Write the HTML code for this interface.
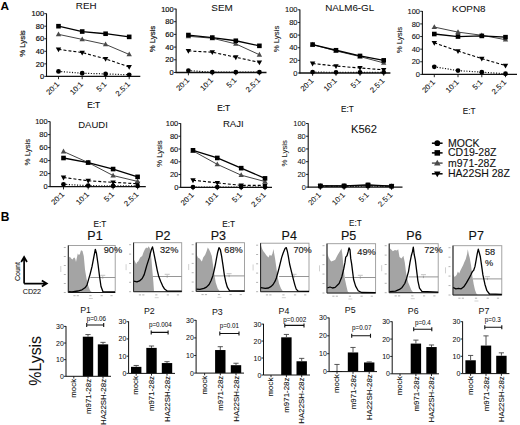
<!DOCTYPE html>
<html><head><meta charset="utf-8"><style>
html,body{margin:0;padding:0;background:#fff;}
body{width:520px;height:425px;overflow:hidden;}
svg{display:block;font-family:"Liberation Sans", sans-serif;}
</style></head><body>
<svg width="520" height="425" viewBox="0 0 520 425">
<rect width="520" height="425" fill="#fff"/>
<text x="0.6" y="10.4" font-size="11.8" font-weight="bold" fill="#000">A</text>
<text x="0.8" y="220.8" font-size="12" font-weight="bold" fill="#000">B</text>
<path d="M46.5 13.45V76.90" stroke="#111" stroke-width="1.1"/>
<path d="M46.0 76.40H140.3" stroke="#111" stroke-width="1.3"/>
<path d="M44.3 76.40H46.5" stroke="#111" stroke-width="0.9"/>
<text x="44.10" y="79.05" font-size="7.5" text-anchor="end" fill="#111" stroke="#111" stroke-width="0.2">0</text>
<path d="M44.3 63.85H46.5" stroke="#111" stroke-width="0.9"/>
<text x="44.10" y="66.50" font-size="7.5" text-anchor="end" fill="#111" stroke="#111" stroke-width="0.2">20</text>
<path d="M44.3 51.30H46.5" stroke="#111" stroke-width="0.9"/>
<text x="44.10" y="53.95" font-size="7.5" text-anchor="end" fill="#111" stroke="#111" stroke-width="0.2">40</text>
<path d="M44.3 38.75H46.5" stroke="#111" stroke-width="0.9"/>
<text x="44.10" y="41.40" font-size="7.5" text-anchor="end" fill="#111" stroke="#111" stroke-width="0.2">60</text>
<path d="M44.3 26.20H46.5" stroke="#111" stroke-width="0.9"/>
<text x="44.10" y="28.85" font-size="7.5" text-anchor="end" fill="#111" stroke="#111" stroke-width="0.2">80</text>
<path d="M44.3 13.65H46.5" stroke="#111" stroke-width="0.9"/>
<text x="44.10" y="16.30" font-size="7.5" text-anchor="end" fill="#111" stroke="#111" stroke-width="0.2">100</text>
<path d="M58.50 76.40V79.20" stroke="#111" stroke-width="0.9"/>
<text x="59.80" y="84.70" font-size="7.6" text-anchor="end" fill="#111" stroke="#111" stroke-width="0.1" transform="rotate(-45 59.80 84.70)">20:1</text>
<path d="M82.20 76.40V79.20" stroke="#111" stroke-width="0.9"/>
<text x="83.50" y="84.70" font-size="7.6" text-anchor="end" fill="#111" stroke="#111" stroke-width="0.1" transform="rotate(-45 83.50 84.70)">10:1</text>
<path d="M105.60 76.40V79.20" stroke="#111" stroke-width="0.9"/>
<text x="106.90" y="84.70" font-size="7.6" text-anchor="end" fill="#111" stroke="#111" stroke-width="0.1" transform="rotate(-45 106.90 84.70)">5:1</text>
<path d="M129.20 76.40V79.20" stroke="#111" stroke-width="0.9"/>
<text x="130.50" y="84.70" font-size="7.6" text-anchor="end" fill="#111" stroke="#111" stroke-width="0.1" transform="rotate(-45 130.50 84.70)">2.5:1</text>
<polyline points="58.50,71.38 82.20,73.26 105.60,73.89 129.20,74.83" stroke="#111" stroke-width="1.2" stroke-dasharray="1.1 1.6" fill="none"/>
<circle cx="58.50" cy="71.38" r="2.40" fill="#000"/>
<circle cx="82.20" cy="73.26" r="2.40" fill="#000"/>
<circle cx="105.60" cy="73.89" r="2.40" fill="#000"/>
<circle cx="129.20" cy="74.83" r="2.40" fill="#000"/>
<polyline points="58.50,49.42 82.20,52.56 105.60,58.83 129.20,66.99" stroke="#000" stroke-width="1.1" stroke-dasharray="3 2" fill="none"/>
<path d="M55.80 47.50L61.20 47.50L58.50 52.30Z" fill="#000"/>
<path d="M79.50 50.64L84.90 50.64L82.20 55.44Z" fill="#000"/>
<path d="M102.90 56.91L108.30 56.91L105.60 61.71Z" fill="#000"/>
<path d="M126.50 65.07L131.90 65.07L129.20 69.87Z" fill="#000"/>
<polyline points="58.50,34.36 82.20,39.38 105.60,44.40 129.20,54.44" stroke="#444" stroke-width="1.0" fill="none"/>
<path d="M58.50 31.48L61.20 36.28L55.80 36.28Z" fill="#4a4a4a"/>
<path d="M82.20 36.50L84.90 41.30L79.50 41.30Z" fill="#4a4a4a"/>
<path d="M105.60 41.52L108.30 46.32L102.90 46.32Z" fill="#4a4a4a"/>
<path d="M129.20 51.56L131.90 56.36L126.50 56.36Z" fill="#4a4a4a"/>
<polyline points="58.50,26.20 82.20,31.53 105.60,33.73 129.20,36.87" stroke="#000" stroke-width="1.3" fill="none"/>
<rect x="56.20" y="23.90" width="4.6" height="4.6" fill="#000"/>
<rect x="79.90" y="29.23" width="4.6" height="4.6" fill="#000"/>
<rect x="103.30" y="31.43" width="4.6" height="4.6" fill="#000"/>
<rect x="126.90" y="34.57" width="4.6" height="4.6" fill="#000"/>
<text x="86.20" y="9.40" font-size="9.8" text-anchor="middle" fill="#111" stroke="#111" stroke-width="0.05">REH</text>
<text x="24.60" y="43.50" font-size="7.8" text-anchor="middle" fill="#111" stroke="#111" stroke-width="0.2" transform="rotate(-90 24.60 43.50)">% Lysis</text>
<text x="93.60" y="107.70" font-size="8.2" text-anchor="middle" fill="#111" stroke="#111" stroke-width="0.2">E:T</text>
<path d="M176.1 8.80V73.00" stroke="#111" stroke-width="1.1"/>
<path d="M175.6 72.50H266.5" stroke="#111" stroke-width="1.3"/>
<path d="M173.9 72.50H176.1" stroke="#111" stroke-width="0.9"/>
<text x="173.70" y="75.15" font-size="7.5" text-anchor="end" fill="#111" stroke="#111" stroke-width="0.2">0</text>
<path d="M173.9 59.80H176.1" stroke="#111" stroke-width="0.9"/>
<text x="173.70" y="62.45" font-size="7.5" text-anchor="end" fill="#111" stroke="#111" stroke-width="0.2">20</text>
<path d="M173.9 47.10H176.1" stroke="#111" stroke-width="0.9"/>
<text x="173.70" y="49.75" font-size="7.5" text-anchor="end" fill="#111" stroke="#111" stroke-width="0.2">40</text>
<path d="M173.9 34.40H176.1" stroke="#111" stroke-width="0.9"/>
<text x="173.70" y="37.05" font-size="7.5" text-anchor="end" fill="#111" stroke="#111" stroke-width="0.2">60</text>
<path d="M173.9 21.70H176.1" stroke="#111" stroke-width="0.9"/>
<text x="173.70" y="24.35" font-size="7.5" text-anchor="end" fill="#111" stroke="#111" stroke-width="0.2">80</text>
<path d="M173.9 9.00H176.1" stroke="#111" stroke-width="0.9"/>
<text x="173.70" y="11.65" font-size="7.5" text-anchor="end" fill="#111" stroke="#111" stroke-width="0.2">100</text>
<path d="M188.40 72.50V75.30" stroke="#111" stroke-width="0.9"/>
<text x="189.70" y="80.80" font-size="7.6" text-anchor="end" fill="#111" stroke="#111" stroke-width="0.1" transform="rotate(-45 189.70 80.80)">20:1</text>
<path d="M212.30 72.50V75.30" stroke="#111" stroke-width="0.9"/>
<text x="213.60" y="80.80" font-size="7.6" text-anchor="end" fill="#111" stroke="#111" stroke-width="0.1" transform="rotate(-45 213.60 80.80)">10:1</text>
<path d="M235.80 72.50V75.30" stroke="#111" stroke-width="0.9"/>
<text x="237.10" y="80.80" font-size="7.6" text-anchor="end" fill="#111" stroke="#111" stroke-width="0.1" transform="rotate(-45 237.10 80.80)">5:1</text>
<path d="M259.40 72.50V75.30" stroke="#111" stroke-width="0.9"/>
<text x="260.70" y="80.80" font-size="7.6" text-anchor="end" fill="#111" stroke="#111" stroke-width="0.1" transform="rotate(-45 260.70 80.80)">2.5:1</text>
<polyline points="188.40,70.59 212.30,72.18 235.80,72.18 259.40,72.18" stroke="#111" stroke-width="1.2" stroke-dasharray="1.1 1.6" fill="none"/>
<circle cx="188.40" cy="70.59" r="2.40" fill="#000"/>
<circle cx="212.30" cy="72.18" r="2.40" fill="#000"/>
<circle cx="235.80" cy="72.18" r="2.40" fill="#000"/>
<circle cx="259.40" cy="72.18" r="2.40" fill="#000"/>
<polyline points="188.40,50.91 212.30,52.18 235.80,57.26 259.40,62.34" stroke="#000" stroke-width="1.1" stroke-dasharray="3 2" fill="none"/>
<path d="M185.70 48.99L191.10 48.99L188.40 53.79Z" fill="#000"/>
<path d="M209.60 50.26L215.00 50.26L212.30 55.06Z" fill="#000"/>
<path d="M233.10 55.34L238.50 55.34L235.80 60.14Z" fill="#000"/>
<path d="M256.70 60.42L262.10 60.42L259.40 65.22Z" fill="#000"/>
<polyline points="188.40,36.30 212.30,38.21 235.80,43.92 259.40,54.72" stroke="#444" stroke-width="1.0" fill="none"/>
<path d="M188.40 33.42L191.10 38.23L185.70 38.23Z" fill="#4a4a4a"/>
<path d="M212.30 35.33L215.00 40.13L209.60 40.13Z" fill="#4a4a4a"/>
<path d="M235.80 41.04L238.50 45.84L233.10 45.84Z" fill="#4a4a4a"/>
<path d="M259.40 51.84L262.10 56.64L256.70 56.64Z" fill="#4a4a4a"/>
<polyline points="188.40,35.03 212.30,37.58 235.80,40.75 259.40,45.83" stroke="#000" stroke-width="1.3" fill="none"/>
<rect x="186.10" y="32.73" width="4.6" height="4.6" fill="#000"/>
<rect x="210.00" y="35.28" width="4.6" height="4.6" fill="#000"/>
<rect x="233.50" y="38.45" width="4.6" height="4.6" fill="#000"/>
<rect x="257.10" y="43.53" width="4.6" height="4.6" fill="#000"/>
<text x="222.00" y="10.60" font-size="9.9" text-anchor="middle" fill="#111" stroke="#111" stroke-width="0.05">SEM</text>
<text x="154.80" y="39.00" font-size="7.8" text-anchor="middle" fill="#111" stroke="#111" stroke-width="0.2" transform="rotate(-90 154.80 39.00)">% Lysis</text>
<text x="223.60" y="111.00" font-size="8.2" text-anchor="middle" fill="#111" stroke="#111" stroke-width="0.2">E:T</text>
<path d="M299.9 9.60V73.50" stroke="#111" stroke-width="1.1"/>
<path d="M299.4 73.00H390.4" stroke="#111" stroke-width="1.3"/>
<path d="M297.7 73.00H299.9" stroke="#111" stroke-width="0.9"/>
<text x="297.50" y="75.65" font-size="7.5" text-anchor="end" fill="#111" stroke="#111" stroke-width="0.1">0</text>
<path d="M297.7 60.36H299.9" stroke="#111" stroke-width="0.9"/>
<text x="297.50" y="63.01" font-size="7.5" text-anchor="end" fill="#111" stroke="#111" stroke-width="0.1">20</text>
<path d="M297.7 47.72H299.9" stroke="#111" stroke-width="0.9"/>
<text x="297.50" y="50.37" font-size="7.5" text-anchor="end" fill="#111" stroke="#111" stroke-width="0.1">40</text>
<path d="M297.7 35.08H299.9" stroke="#111" stroke-width="0.9"/>
<text x="297.50" y="37.73" font-size="7.5" text-anchor="end" fill="#111" stroke="#111" stroke-width="0.1">60</text>
<path d="M297.7 22.44H299.9" stroke="#111" stroke-width="0.9"/>
<text x="297.50" y="25.09" font-size="7.5" text-anchor="end" fill="#111" stroke="#111" stroke-width="0.1">80</text>
<path d="M297.7 9.80H299.9" stroke="#111" stroke-width="0.9"/>
<text x="297.50" y="12.45" font-size="7.5" text-anchor="end" fill="#111" stroke="#111" stroke-width="0.1">100</text>
<path d="M312.60 73.00V75.80" stroke="#111" stroke-width="0.9"/>
<text x="313.90" y="81.30" font-size="7.6" text-anchor="end" fill="#111" stroke="#111" stroke-width="0.1" transform="rotate(-45 313.90 81.30)">20:1</text>
<path d="M336.00 73.00V75.80" stroke="#111" stroke-width="0.9"/>
<text x="337.30" y="81.30" font-size="7.6" text-anchor="end" fill="#111" stroke="#111" stroke-width="0.1" transform="rotate(-45 337.30 81.30)">10:1</text>
<path d="M360.00 73.00V75.80" stroke="#111" stroke-width="0.9"/>
<text x="361.30" y="81.30" font-size="7.6" text-anchor="end" fill="#111" stroke="#111" stroke-width="0.1" transform="rotate(-45 361.30 81.30)">5:1</text>
<path d="M383.70 73.00V75.80" stroke="#111" stroke-width="0.9"/>
<text x="385.00" y="81.30" font-size="7.6" text-anchor="end" fill="#111" stroke="#111" stroke-width="0.1" transform="rotate(-45 385.00 81.30)">2.5:1</text>
<polyline points="312.60,72.05 336.00,72.37 360.00,72.37 383.70,72.37" stroke="#111" stroke-width="1.2" stroke-dasharray="1.1 1.6" fill="none"/>
<circle cx="312.60" cy="72.05" r="2.40" fill="#000"/>
<circle cx="336.00" cy="72.37" r="2.40" fill="#000"/>
<circle cx="360.00" cy="72.37" r="2.40" fill="#000"/>
<circle cx="383.70" cy="72.37" r="2.40" fill="#000"/>
<polyline points="312.60,63.52 336.00,66.05 360.00,67.94 383.70,69.84" stroke="#000" stroke-width="1.1" stroke-dasharray="3 2" fill="none"/>
<path d="M309.90 61.60L315.30 61.60L312.60 66.40Z" fill="#000"/>
<path d="M333.30 64.13L338.70 64.13L336.00 68.93Z" fill="#000"/>
<path d="M357.30 66.02L362.70 66.02L360.00 70.82Z" fill="#000"/>
<path d="M381.00 67.92L386.40 67.92L383.70 72.72Z" fill="#000"/>
<polyline points="312.60,44.56 336.00,50.88 360.00,56.57 383.70,62.89" stroke="#444" stroke-width="1.0" fill="none"/>
<path d="M312.60 41.68L315.30 46.48L309.90 46.48Z" fill="#4a4a4a"/>
<path d="M336.00 48.00L338.70 52.80L333.30 52.80Z" fill="#4a4a4a"/>
<path d="M360.00 53.69L362.70 58.49L357.30 58.49Z" fill="#4a4a4a"/>
<path d="M383.70 60.01L386.40 64.81L381.00 64.81Z" fill="#4a4a4a"/>
<polyline points="312.60,44.56 336.00,50.25 360.00,55.94 383.70,60.36" stroke="#000" stroke-width="1.3" fill="none"/>
<rect x="310.30" y="42.26" width="4.6" height="4.6" fill="#000"/>
<rect x="333.70" y="47.95" width="4.6" height="4.6" fill="#000"/>
<rect x="357.70" y="53.64" width="4.6" height="4.6" fill="#000"/>
<rect x="381.40" y="58.06" width="4.6" height="4.6" fill="#000"/>
<text x="349.70" y="10.60" font-size="9.8" text-anchor="middle" fill="#111" stroke="#111" stroke-width="0.05">NALM6-GL</text>
<text x="279.00" y="39.00" font-size="7.8" text-anchor="middle" fill="#111" stroke="#111" stroke-width="0.1" transform="rotate(-90 279.00 39.00)">% Lysis</text>
<text x="347.30" y="112.00" font-size="8.2" text-anchor="middle" fill="#111" stroke="#111" stroke-width="0.1">E:T</text>
<path d="M422.4 11.10V74.90" stroke="#111" stroke-width="1.1"/>
<path d="M421.9 74.40H517.0" stroke="#111" stroke-width="1.3"/>
<path d="M420.2 74.40H422.4" stroke="#111" stroke-width="0.9"/>
<text x="420.00" y="77.05" font-size="7.5" text-anchor="end" fill="#111" stroke="#111" stroke-width="0.1">0</text>
<path d="M420.2 61.78H422.4" stroke="#111" stroke-width="0.9"/>
<text x="420.00" y="64.43" font-size="7.5" text-anchor="end" fill="#111" stroke="#111" stroke-width="0.1">20</text>
<path d="M420.2 49.16H422.4" stroke="#111" stroke-width="0.9"/>
<text x="420.00" y="51.81" font-size="7.5" text-anchor="end" fill="#111" stroke="#111" stroke-width="0.1">40</text>
<path d="M420.2 36.54H422.4" stroke="#111" stroke-width="0.9"/>
<text x="420.00" y="39.19" font-size="7.5" text-anchor="end" fill="#111" stroke="#111" stroke-width="0.1">60</text>
<path d="M420.2 23.92H422.4" stroke="#111" stroke-width="0.9"/>
<text x="420.00" y="26.57" font-size="7.5" text-anchor="end" fill="#111" stroke="#111" stroke-width="0.1">80</text>
<path d="M420.2 11.30H422.4" stroke="#111" stroke-width="0.9"/>
<text x="420.00" y="13.95" font-size="7.5" text-anchor="end" fill="#111" stroke="#111" stroke-width="0.1">100</text>
<path d="M434.30 74.40V77.20" stroke="#111" stroke-width="0.9"/>
<text x="435.60" y="82.70" font-size="7.6" text-anchor="end" fill="#111" stroke="#111" stroke-width="0.1" transform="rotate(-45 435.60 82.70)">20:1</text>
<path d="M458.00 74.40V77.20" stroke="#111" stroke-width="0.9"/>
<text x="459.30" y="82.70" font-size="7.6" text-anchor="end" fill="#111" stroke="#111" stroke-width="0.1" transform="rotate(-45 459.30 82.70)">10:1</text>
<path d="M481.80 74.40V77.20" stroke="#111" stroke-width="0.9"/>
<text x="483.10" y="82.70" font-size="7.6" text-anchor="end" fill="#111" stroke="#111" stroke-width="0.1" transform="rotate(-45 483.10 82.70)">5:1</text>
<path d="M505.50 74.40V77.20" stroke="#111" stroke-width="0.9"/>
<text x="506.80" y="82.70" font-size="7.6" text-anchor="end" fill="#111" stroke="#111" stroke-width="0.1" transform="rotate(-45 506.80 82.70)">2.5:1</text>
<polyline points="434.30,66.83 458.00,70.61 481.80,72.19 505.50,73.77" stroke="#111" stroke-width="1.2" stroke-dasharray="1.1 1.6" fill="none"/>
<circle cx="434.30" cy="66.83" r="2.40" fill="#000"/>
<circle cx="458.00" cy="70.61" r="2.40" fill="#000"/>
<circle cx="481.80" cy="72.19" r="2.40" fill="#000"/>
<circle cx="505.50" cy="73.77" r="2.40" fill="#000"/>
<polyline points="434.30,42.85 458.00,51.05 481.80,58.62 505.50,65.57" stroke="#000" stroke-width="1.1" stroke-dasharray="3 2" fill="none"/>
<path d="M431.60 40.93L437.00 40.93L434.30 45.73Z" fill="#000"/>
<path d="M455.30 49.13L460.70 49.13L458.00 53.93Z" fill="#000"/>
<path d="M479.10 56.70L484.50 56.70L481.80 61.51Z" fill="#000"/>
<path d="M502.80 63.65L508.20 63.65L505.50 68.45Z" fill="#000"/>
<polyline points="434.30,27.07 458.00,32.12 481.80,35.28 505.50,39.70" stroke="#444" stroke-width="1.0" fill="none"/>
<path d="M434.30 24.19L437.00 28.99L431.60 28.99Z" fill="#4a4a4a"/>
<path d="M458.00 29.24L460.70 34.04L455.30 34.04Z" fill="#4a4a4a"/>
<path d="M481.80 32.40L484.50 37.20L479.10 37.20Z" fill="#4a4a4a"/>
<path d="M505.50 36.81L508.20 41.62L502.80 41.62Z" fill="#4a4a4a"/>
<polyline points="434.30,34.02 458.00,36.54 481.80,35.91 505.50,37.17" stroke="#000" stroke-width="1.3" fill="none"/>
<rect x="432.00" y="31.72" width="4.6" height="4.6" fill="#000"/>
<rect x="455.70" y="34.24" width="4.6" height="4.6" fill="#000"/>
<rect x="479.50" y="33.61" width="4.6" height="4.6" fill="#000"/>
<rect x="503.20" y="34.87" width="4.6" height="4.6" fill="#000"/>
<text x="468.80" y="11.70" font-size="9.9" text-anchor="middle" fill="#111" stroke="#111" stroke-width="0.05">KOPN8</text>
<text x="401.60" y="40.00" font-size="7.8" text-anchor="middle" fill="#111" stroke="#111" stroke-width="0.1" transform="rotate(-90 401.60 40.00)">% Lysis</text>
<text x="469.20" y="113.50" font-size="8.2" text-anchor="middle" fill="#111" stroke="#111" stroke-width="0.1">E:T</text>
<path d="M50.1 121.40V187.10" stroke="#111" stroke-width="1.1"/>
<path d="M49.6 186.60H145.8" stroke="#111" stroke-width="1.3"/>
<path d="M47.9 186.60H50.1" stroke="#111" stroke-width="0.9"/>
<text x="47.70" y="189.25" font-size="7.5" text-anchor="end" fill="#111" stroke="#111" stroke-width="0.12">0</text>
<path d="M47.9 173.60H50.1" stroke="#111" stroke-width="0.9"/>
<text x="47.70" y="176.25" font-size="7.5" text-anchor="end" fill="#111" stroke="#111" stroke-width="0.12">20</text>
<path d="M47.9 160.60H50.1" stroke="#111" stroke-width="0.9"/>
<text x="47.70" y="163.25" font-size="7.5" text-anchor="end" fill="#111" stroke="#111" stroke-width="0.12">40</text>
<path d="M47.9 147.60H50.1" stroke="#111" stroke-width="0.9"/>
<text x="47.70" y="150.25" font-size="7.5" text-anchor="end" fill="#111" stroke="#111" stroke-width="0.12">60</text>
<path d="M47.9 134.60H50.1" stroke="#111" stroke-width="0.9"/>
<text x="47.70" y="137.25" font-size="7.5" text-anchor="end" fill="#111" stroke="#111" stroke-width="0.12">80</text>
<path d="M47.9 121.60H50.1" stroke="#111" stroke-width="0.9"/>
<text x="47.70" y="124.25" font-size="7.5" text-anchor="end" fill="#111" stroke="#111" stroke-width="0.12">100</text>
<path d="M63.50 186.60V189.40" stroke="#111" stroke-width="0.9"/>
<text x="64.80" y="194.90" font-size="7.6" text-anchor="end" fill="#111" stroke="#111" stroke-width="0.1" transform="rotate(-45 64.80 194.90)">20:1</text>
<path d="M88.20 186.60V189.40" stroke="#111" stroke-width="0.9"/>
<text x="89.50" y="194.90" font-size="7.6" text-anchor="end" fill="#111" stroke="#111" stroke-width="0.1" transform="rotate(-45 89.50 194.90)">10:1</text>
<path d="M113.10 186.60V189.40" stroke="#111" stroke-width="0.9"/>
<text x="114.40" y="194.90" font-size="7.6" text-anchor="end" fill="#111" stroke="#111" stroke-width="0.1" transform="rotate(-45 114.40 194.90)">5:1</text>
<path d="M137.60 186.60V189.40" stroke="#111" stroke-width="0.9"/>
<text x="138.90" y="194.90" font-size="7.6" text-anchor="end" fill="#111" stroke="#111" stroke-width="0.1" transform="rotate(-45 138.90 194.90)">2.5:1</text>
<polyline points="63.50,184.32 88.20,185.62 113.10,185.95 137.60,185.95" stroke="#111" stroke-width="1.2" stroke-dasharray="1.1 1.6" fill="none"/>
<circle cx="63.50" cy="184.32" r="2.40" fill="#000"/>
<circle cx="88.20" cy="185.62" r="2.40" fill="#000"/>
<circle cx="113.10" cy="185.95" r="2.40" fill="#000"/>
<circle cx="137.60" cy="185.95" r="2.40" fill="#000"/>
<polyline points="63.50,177.50 88.20,180.75 113.10,182.38 137.60,183.67" stroke="#000" stroke-width="1.1" stroke-dasharray="3 2" fill="none"/>
<path d="M60.80 175.58L66.20 175.58L63.50 180.38Z" fill="#000"/>
<path d="M85.50 178.83L90.90 178.83L88.20 183.63Z" fill="#000"/>
<path d="M110.40 180.46L115.80 180.46L113.10 185.25Z" fill="#000"/>
<path d="M134.90 181.75L140.30 181.75L137.60 186.55Z" fill="#000"/>
<polyline points="63.50,151.50 88.20,162.55 113.10,175.55 137.60,181.40" stroke="#444" stroke-width="1.0" fill="none"/>
<path d="M63.50 148.62L66.20 153.42L60.80 153.42Z" fill="#4a4a4a"/>
<path d="M88.20 159.67L90.90 164.47L85.50 164.47Z" fill="#4a4a4a"/>
<path d="M113.10 172.67L115.80 177.47L110.40 177.47Z" fill="#4a4a4a"/>
<path d="M137.60 178.52L140.30 183.32L134.90 183.32Z" fill="#4a4a4a"/>
<polyline points="63.50,158.00 88.20,162.55 113.10,169.05 137.60,176.85" stroke="#000" stroke-width="1.3" fill="none"/>
<rect x="61.20" y="155.70" width="4.6" height="4.6" fill="#000"/>
<rect x="85.90" y="160.25" width="4.6" height="4.6" fill="#000"/>
<rect x="110.80" y="166.75" width="4.6" height="4.6" fill="#000"/>
<rect x="135.30" y="174.55" width="4.6" height="4.6" fill="#000"/>
<text x="93.00" y="128.20" font-size="9.5" text-anchor="middle" fill="#111" stroke="#111" stroke-width="0.05">DAUDI</text>
<text x="29.80" y="152.10" font-size="7.8" text-anchor="middle" fill="#111" stroke="#111" stroke-width="0.12" transform="rotate(-90 29.80 152.10)">% Lysis</text>
<text x="99.80" y="226.50" font-size="8.2" text-anchor="middle" fill="#111" stroke="#111" stroke-width="0.12">E:T</text>
<path d="M180.7 123.30V187.80" stroke="#111" stroke-width="1.1"/>
<path d="M180.2 187.30H272.0" stroke="#111" stroke-width="1.3"/>
<path d="M178.5 187.30H180.7" stroke="#111" stroke-width="0.9"/>
<text x="178.30" y="189.95" font-size="7.5" text-anchor="end" fill="#111" stroke="#111" stroke-width="0.12">0</text>
<path d="M178.5 174.54H180.7" stroke="#111" stroke-width="0.9"/>
<text x="178.30" y="177.19" font-size="7.5" text-anchor="end" fill="#111" stroke="#111" stroke-width="0.12">20</text>
<path d="M178.5 161.78H180.7" stroke="#111" stroke-width="0.9"/>
<text x="178.30" y="164.43" font-size="7.5" text-anchor="end" fill="#111" stroke="#111" stroke-width="0.12">40</text>
<path d="M178.5 149.02H180.7" stroke="#111" stroke-width="0.9"/>
<text x="178.30" y="151.67" font-size="7.5" text-anchor="end" fill="#111" stroke="#111" stroke-width="0.12">60</text>
<path d="M178.5 136.26H180.7" stroke="#111" stroke-width="0.9"/>
<text x="178.30" y="138.91" font-size="7.5" text-anchor="end" fill="#111" stroke="#111" stroke-width="0.12">80</text>
<path d="M178.5 123.50H180.7" stroke="#111" stroke-width="0.9"/>
<text x="178.30" y="126.15" font-size="7.5" text-anchor="end" fill="#111" stroke="#111" stroke-width="0.12">100</text>
<path d="M193.00 187.30V190.10" stroke="#111" stroke-width="0.9"/>
<text x="194.30" y="195.60" font-size="7.6" text-anchor="end" fill="#111" stroke="#111" stroke-width="0.1" transform="rotate(-45 194.30 195.60)">20:1</text>
<path d="M217.30 187.30V190.10" stroke="#111" stroke-width="0.9"/>
<text x="218.60" y="195.60" font-size="7.6" text-anchor="end" fill="#111" stroke="#111" stroke-width="0.1" transform="rotate(-45 218.60 195.60)">10:1</text>
<path d="M241.20 187.30V190.10" stroke="#111" stroke-width="0.9"/>
<text x="242.50" y="195.60" font-size="7.6" text-anchor="end" fill="#111" stroke="#111" stroke-width="0.1" transform="rotate(-45 242.50 195.60)">5:1</text>
<path d="M265.00 187.30V190.10" stroke="#111" stroke-width="0.9"/>
<text x="266.30" y="195.60" font-size="7.6" text-anchor="end" fill="#111" stroke="#111" stroke-width="0.1" transform="rotate(-45 266.30 195.60)">2.5:1</text>
<polyline points="193.00,187.11 217.30,187.11 241.20,187.11 265.00,187.11" stroke="#111" stroke-width="1.2" stroke-dasharray="1.1 1.6" fill="none"/>
<circle cx="193.00" cy="187.11" r="2.40" fill="#000"/>
<circle cx="217.30" cy="187.11" r="2.40" fill="#000"/>
<circle cx="241.20" cy="187.11" r="2.40" fill="#000"/>
<circle cx="265.00" cy="187.11" r="2.40" fill="#000"/>
<polyline points="193.00,180.28 217.30,182.83 241.20,185.39 265.00,185.39" stroke="#000" stroke-width="1.1" stroke-dasharray="3 2" fill="none"/>
<path d="M190.30 178.36L195.70 178.36L193.00 183.16Z" fill="#000"/>
<path d="M214.60 180.91L220.00 180.91L217.30 185.71Z" fill="#000"/>
<path d="M238.50 183.47L243.90 183.47L241.20 188.27Z" fill="#000"/>
<path d="M262.30 183.47L267.70 183.47L265.00 188.27Z" fill="#000"/>
<polyline points="193.00,150.93 217.30,164.33 241.20,175.18 265.00,181.56" stroke="#444" stroke-width="1.0" fill="none"/>
<path d="M193.00 148.05L195.70 152.85L190.30 152.85Z" fill="#4a4a4a"/>
<path d="M217.30 161.45L220.00 166.25L214.60 166.25Z" fill="#4a4a4a"/>
<path d="M241.20 172.30L243.90 177.10L238.50 177.10Z" fill="#4a4a4a"/>
<path d="M265.00 178.68L267.70 183.48L262.30 183.48Z" fill="#4a4a4a"/>
<polyline points="193.00,150.30 217.30,157.95 241.20,168.16 265.00,178.37" stroke="#000" stroke-width="1.3" fill="none"/>
<rect x="190.70" y="148.00" width="4.6" height="4.6" fill="#000"/>
<rect x="215.00" y="155.65" width="4.6" height="4.6" fill="#000"/>
<rect x="238.90" y="165.86" width="4.6" height="4.6" fill="#000"/>
<rect x="262.70" y="176.07" width="4.6" height="4.6" fill="#000"/>
<text x="233.30" y="127.20" font-size="9.6" text-anchor="middle" fill="#111" stroke="#111" stroke-width="0.05">RAJI</text>
<text x="162.10" y="153.60" font-size="7.8" text-anchor="middle" fill="#111" stroke="#111" stroke-width="0.12" transform="rotate(-90 162.10 153.60)">% Lysis</text>
<text x="228.60" y="226.70" font-size="8.2" text-anchor="middle" fill="#111" stroke="#111" stroke-width="0.12">E:T</text>
<path d="M308.2 123.30V187.60" stroke="#111" stroke-width="1.1"/>
<path d="M307.7 187.10H402.5" stroke="#111" stroke-width="1.3"/>
<path d="M306.0 187.10H308.2" stroke="#111" stroke-width="0.9"/>
<text x="305.80" y="189.75" font-size="7.5" text-anchor="end" fill="#111" stroke="#111" stroke-width="0.05">0</text>
<path d="M306.0 174.38H308.2" stroke="#111" stroke-width="0.9"/>
<text x="305.80" y="177.03" font-size="7.5" text-anchor="end" fill="#111" stroke="#111" stroke-width="0.05">20</text>
<path d="M306.0 161.66H308.2" stroke="#111" stroke-width="0.9"/>
<text x="305.80" y="164.31" font-size="7.5" text-anchor="end" fill="#111" stroke="#111" stroke-width="0.05">40</text>
<path d="M306.0 148.94H308.2" stroke="#111" stroke-width="0.9"/>
<text x="305.80" y="151.59" font-size="7.5" text-anchor="end" fill="#111" stroke="#111" stroke-width="0.05">60</text>
<path d="M306.0 136.22H308.2" stroke="#111" stroke-width="0.9"/>
<text x="305.80" y="138.87" font-size="7.5" text-anchor="end" fill="#111" stroke="#111" stroke-width="0.05">80</text>
<path d="M306.0 123.50H308.2" stroke="#111" stroke-width="0.9"/>
<text x="305.80" y="126.15" font-size="7.5" text-anchor="end" fill="#111" stroke="#111" stroke-width="0.05">100</text>
<path d="M320.30 187.10V189.90" stroke="#111" stroke-width="0.9"/>
<text x="321.60" y="195.40" font-size="7.6" text-anchor="end" fill="#111" stroke="#111" stroke-width="0.05" transform="rotate(-45 321.60 195.40)">20:1</text>
<path d="M344.10 187.10V189.90" stroke="#111" stroke-width="0.9"/>
<text x="345.40" y="195.40" font-size="7.6" text-anchor="end" fill="#111" stroke="#111" stroke-width="0.05" transform="rotate(-45 345.40 195.40)">10:1</text>
<path d="M368.00 187.10V189.90" stroke="#111" stroke-width="0.9"/>
<text x="369.30" y="195.40" font-size="7.6" text-anchor="end" fill="#111" stroke="#111" stroke-width="0.05" transform="rotate(-45 369.30 195.40)">5:1</text>
<path d="M391.60 187.10V189.90" stroke="#111" stroke-width="0.9"/>
<text x="392.90" y="195.40" font-size="7.6" text-anchor="end" fill="#111" stroke="#111" stroke-width="0.05" transform="rotate(-45 392.90 195.40)">2.5:1</text>
<polyline points="320.30,186.46 344.10,186.46 368.00,186.15 391.60,186.46" stroke="#111" stroke-width="1.2" stroke-dasharray="1.1 1.6" fill="none"/>
<circle cx="320.30" cy="186.46" r="2.40" fill="#000"/>
<circle cx="344.10" cy="186.46" r="2.40" fill="#000"/>
<circle cx="368.00" cy="186.15" r="2.40" fill="#000"/>
<circle cx="391.60" cy="186.46" r="2.40" fill="#000"/>
<polyline points="320.30,186.15 344.10,186.15 368.00,185.51 391.60,186.34" stroke="#000" stroke-width="1.1" stroke-dasharray="3 2" fill="none"/>
<path d="M317.60 184.23L323.00 184.23L320.30 189.03Z" fill="#000"/>
<path d="M341.40 184.23L346.80 184.23L344.10 189.03Z" fill="#000"/>
<path d="M365.30 183.59L370.70 183.59L368.00 188.39Z" fill="#000"/>
<path d="M388.90 184.42L394.30 184.42L391.60 189.22Z" fill="#000"/>
<polyline points="320.30,185.83 344.10,185.83 368.00,185.19 391.60,186.15" stroke="#444" stroke-width="1.0" fill="none"/>
<path d="M320.30 182.95L323.00 187.75L317.60 187.75Z" fill="#4a4a4a"/>
<path d="M344.10 182.95L346.80 187.75L341.40 187.75Z" fill="#4a4a4a"/>
<path d="M368.00 182.31L370.70 187.11L365.30 187.11Z" fill="#4a4a4a"/>
<path d="M391.60 183.27L394.30 188.07L388.90 188.07Z" fill="#4a4a4a"/>
<polyline points="320.30,185.83 344.10,185.83 368.00,184.87 391.60,186.15" stroke="#000" stroke-width="1.3" fill="none"/>
<rect x="318.00" y="183.53" width="4.6" height="4.6" fill="#000"/>
<rect x="341.80" y="183.53" width="4.6" height="4.6" fill="#000"/>
<rect x="365.70" y="182.57" width="4.6" height="4.6" fill="#000"/>
<rect x="389.30" y="183.85" width="4.6" height="4.6" fill="#000"/>
<text x="364.00" y="133.30" font-size="11.2" text-anchor="middle" fill="#111" stroke="#111" stroke-width="0.05">K562</text>
<text x="287.20" y="153.30" font-size="7.8" text-anchor="middle" fill="#111" stroke="#111" stroke-width="0.05" transform="rotate(-90 287.20 153.30)">% Lysis</text>
<text x="355.40" y="225.80" font-size="8.2" text-anchor="middle" fill="#111" stroke="#111" stroke-width="0.05">E:T</text>
<path d="M431.9 143.20H442.6" stroke="#000" stroke-width="1.5"/>
<circle cx="437.30" cy="143.20" r="2.88" fill="#000"/>
<text x="448.00" y="146.70" font-size="10.5" text-anchor="start" fill="#111" stroke="#111" stroke-width="0.12">MOCK</text>
<path d="M431.9 152.90H442.6" stroke="#000" stroke-width="1.5"/>
<rect x="434.54" y="150.14" width="5.52" height="5.52" fill="#000"/>
<text x="448.00" y="156.40" font-size="10.5" text-anchor="start" fill="#111" stroke="#111" stroke-width="0.12">CD19-28Z</text>
<path d="M431.9 163.10H442.6" stroke="#555" stroke-width="1.5"/>
<path d="M437.30 159.64L440.54 165.40L434.06 165.40Z" fill="#4a4a4a"/>
<text x="448.00" y="166.60" font-size="10.5" text-anchor="start" fill="#111" stroke="#111" stroke-width="0.12">m971-28Z</text>
<path d="M431.9 173.80H442.6" stroke="#000" stroke-width="1.5"/>
<path d="M434.06 171.50L440.54 171.50L437.30 177.26Z" fill="#000"/>
<text x="448.00" y="177.30" font-size="10.5" text-anchor="start" fill="#111" stroke="#111" stroke-width="0.12">HA22SH 28Z</text>
<path d="M68.60 292.50L68.60 257.50L69.90 256.80L71.20 258.50L72.50 259.50L73.50 258.00L74.50 257.50L75.30 259.00L76.00 262.00L76.80 258.00L77.80 253.50L78.80 255.00L79.80 254.20L81.00 250.20L82.50 251.00L83.80 256.20L85.00 269.40L86.50 278.60L88.00 285.00L90.00 290.40L92.00 292.30L92.00 292.50Z" fill="#a4a4a4"/>
<rect x="68.30" y="245.50" width="46.90" height="47.00" fill="none" stroke="#999" stroke-width="0.9"/>
<path d="M68.30 245.50V292.50H115.20" fill="none" stroke="#222" stroke-width="1.0"/>
<path d="M90.30 277.50H115.20" stroke="#8a8a8a" stroke-width="0.9"/>
<path d="M102.75 276.30V278.70" stroke="#8a8a8a" stroke-width="0.7"/>
<path d="M100.25 275.30H105.25" stroke="#bbb" stroke-width="0.9"/>
<polyline points="68.60,291.70 72.00,291.80 77.80,291.00 82.00,289.80 85.00,287.80 87.00,285.20 88.50,279.60 90.00,274.60 92.00,266.70 94.00,256.20 95.30,249.30 96.50,253.50 98.00,264.00 99.50,276.00 101.00,286.50 103.00,291.70 115.00,292.00" fill="none" stroke="#000" stroke-width="1.3" stroke-linejoin="round"/>
<path d="M63.80 292.50h2" stroke="#aaa" stroke-width="0.9"/>
<path d="M63.80 283.50h2" stroke="#aaa" stroke-width="0.9"/>
<path d="M63.80 274.50h2" stroke="#aaa" stroke-width="0.9"/>
<path d="M63.80 265.50h2" stroke="#aaa" stroke-width="0.9"/>
<path d="M63.80 256.50h2" stroke="#aaa" stroke-width="0.9"/>
<path d="M63.80 247.50h2" stroke="#aaa" stroke-width="0.9"/>
<path d="M60.80 266.00v6" stroke="#ccc" stroke-width="0.9"/>
<path d="M73.40 295.70h2.2" stroke="#aaa" stroke-width="0.9"/>
<path d="M76.68 295.70h2.2" stroke="#aaa" stroke-width="0.9"/>
<path d="M89.34 295.70h2.2" stroke="#aaa" stroke-width="0.9"/>
<path d="M100.60 295.70h2.2" stroke="#aaa" stroke-width="0.9"/>
<path d="M110.45 295.70h2.2" stroke="#aaa" stroke-width="0.9"/>
<path d="M88.84 298.50h4" stroke="#ccc" stroke-width="0.9"/>
<text x="95.00" y="240.00" font-size="12.5" text-anchor="middle" fill="#111" stroke="#111" stroke-width="0.15">P1</text>
<text x="112.90" y="253.00" font-size="9.2" text-anchor="middle" fill="#1a1a1a" stroke="#1a1a1a" stroke-width="0.15">90%</text>
<path d="M133.80 291.70L133.80 259.40L135.00 261.50L136.20 264.00L137.20 262.00L138.20 261.40L140.20 257.40L142.20 256.10L143.50 252.20L144.80 249.50L146.10 247.60L147.40 248.20L148.80 246.20L150.10 248.90L151.40 258.80L152.50 271.90L153.40 282.50L154.00 291.50L154.00 291.70Z" fill="#a4a4a4"/>
<rect x="133.60" y="242.70" width="48.10" height="49.00" fill="none" stroke="#999" stroke-width="0.9"/>
<path d="M133.60 242.70V291.70H181.70" fill="none" stroke="#222" stroke-width="1.0"/>
<path d="M152.70 276.50H181.70" stroke="#8a8a8a" stroke-width="0.9"/>
<path d="M167.20 275.30V277.70" stroke="#8a8a8a" stroke-width="0.7"/>
<path d="M164.70 274.30H169.70" stroke="#bbb" stroke-width="0.9"/>
<polyline points="133.80,281.20 136.90,281.80 139.50,280.90 142.20,278.50 144.20,274.60 145.50,270.00 146.80,265.40 148.10,261.40 149.40,257.40 150.30,253.50 151.40,249.50 152.50,246.90 153.40,250.90 154.70,257.40 156.00,264.00 157.30,270.60 158.60,275.90 160.60,281.20 162.60,285.80 164.60,289.10 167.20,291.00 181.70,291.20" fill="none" stroke="#000" stroke-width="1.3" stroke-linejoin="round"/>
<path d="M129.10 291.70h2" stroke="#aaa" stroke-width="0.9"/>
<path d="M129.10 282.30h2" stroke="#aaa" stroke-width="0.9"/>
<path d="M129.10 272.90h2" stroke="#aaa" stroke-width="0.9"/>
<path d="M129.10 263.50h2" stroke="#aaa" stroke-width="0.9"/>
<path d="M129.10 254.10h2" stroke="#aaa" stroke-width="0.9"/>
<path d="M129.10 244.70h2" stroke="#aaa" stroke-width="0.9"/>
<path d="M126.10 264.20v6" stroke="#ccc" stroke-width="0.9"/>
<path d="M138.85 294.90h2.2" stroke="#aaa" stroke-width="0.9"/>
<path d="M142.22 294.90h2.2" stroke="#aaa" stroke-width="0.9"/>
<path d="M155.21 294.90h2.2" stroke="#aaa" stroke-width="0.9"/>
<path d="M166.75 294.90h2.2" stroke="#aaa" stroke-width="0.9"/>
<path d="M176.85 294.90h2.2" stroke="#aaa" stroke-width="0.9"/>
<path d="M154.71 297.70h4" stroke="#ccc" stroke-width="0.9"/>
<text x="162.80" y="239.50" font-size="12.5" text-anchor="middle" fill="#111" stroke="#111" stroke-width="0.15">P2</text>
<text x="169.20" y="252.80" font-size="9.2" text-anchor="middle" fill="#1a1a1a" stroke="#1a1a1a" stroke-width="0.15">32%</text>
<path d="M196.50 291.40L196.50 254.20L197.90 257.40L199.90 258.80L201.00 260.50L201.90 261.40L203.20 257.40L205.20 254.80L206.50 251.50L207.80 247.60L209.10 249.50L210.40 252.20L211.80 256.10L213.10 265.40L214.40 274.60L215.70 282.50L217.70 288.40L219.70 291.20L219.70 291.40Z" fill="#a4a4a4"/>
<rect x="196.20" y="242.70" width="48.30" height="48.70" fill="none" stroke="#999" stroke-width="0.9"/>
<path d="M196.20 242.70V291.40H244.50" fill="none" stroke="#222" stroke-width="1.0"/>
<path d="M213.70 275.90H244.50" stroke="#8a8a8a" stroke-width="0.9"/>
<path d="M229.10 274.70V277.10" stroke="#8a8a8a" stroke-width="0.7"/>
<path d="M226.60 273.70H231.60" stroke="#bbb" stroke-width="0.9"/>
<polyline points="196.50,289.10 199.90,289.30 203.90,288.40 206.50,287.10 209.10,284.50 211.10,280.50 212.80,275.90 214.10,270.60 215.50,264.00 216.40,258.80 217.70,252.20 219.00,247.60 220.30,249.50 221.60,256.10 223.00,265.40 224.30,274.60 225.60,281.20 227.30,287.10 229.50,290.60 244.50,290.90" fill="none" stroke="#000" stroke-width="1.3" stroke-linejoin="round"/>
<path d="M191.70 291.40h2" stroke="#aaa" stroke-width="0.9"/>
<path d="M191.70 282.06h2" stroke="#aaa" stroke-width="0.9"/>
<path d="M191.70 272.72h2" stroke="#aaa" stroke-width="0.9"/>
<path d="M191.70 263.38h2" stroke="#aaa" stroke-width="0.9"/>
<path d="M191.70 254.04h2" stroke="#aaa" stroke-width="0.9"/>
<path d="M191.70 244.70h2" stroke="#aaa" stroke-width="0.9"/>
<path d="M188.70 264.05v6" stroke="#ccc" stroke-width="0.9"/>
<path d="M201.48 294.60h2.2" stroke="#aaa" stroke-width="0.9"/>
<path d="M204.86 294.60h2.2" stroke="#aaa" stroke-width="0.9"/>
<path d="M217.90 294.60h2.2" stroke="#aaa" stroke-width="0.9"/>
<path d="M229.49 294.60h2.2" stroke="#aaa" stroke-width="0.9"/>
<path d="M239.64 294.60h2.2" stroke="#aaa" stroke-width="0.9"/>
<path d="M217.40 297.40h4" stroke="#ccc" stroke-width="0.9"/>
<text x="218.40" y="239.60" font-size="12.5" text-anchor="middle" fill="#111" stroke="#111" stroke-width="0.15">P3</text>
<text x="233.50" y="252.80" font-size="9.2" text-anchor="middle" fill="#1a1a1a" stroke="#1a1a1a" stroke-width="0.15">68%</text>
<path d="M260.80 291.70L260.80 244.90L261.90 248.20L263.20 250.90L264.60 252.80L266.50 255.50L268.50 257.40L269.80 254.80L271.20 256.10L272.50 253.50L273.40 248.90L274.20 253.50L275.10 258.80L276.40 268.00L277.70 277.20L279.10 283.80L281.00 288.40L283.00 291.50L283.00 291.70Z" fill="#a4a4a4"/>
<rect x="260.60" y="243.20" width="48.40" height="48.50" fill="none" stroke="#999" stroke-width="0.9"/>
<path d="M260.60 243.20V291.70H309.00" fill="none" stroke="#222" stroke-width="1.0"/>
<path d="M279.10 276.50H309.00" stroke="#8a8a8a" stroke-width="0.9"/>
<path d="M294.05 275.30V277.70" stroke="#8a8a8a" stroke-width="0.7"/>
<path d="M291.55 274.30H296.55" stroke="#bbb" stroke-width="0.9"/>
<polyline points="260.80,287.70 265.20,288.40 268.50,288.00 271.20,286.40 273.10,284.50 275.10,281.20 276.40,277.90 277.70,273.30 279.10,268.00 280.40,262.70 281.70,257.40 283.00,253.50 284.30,250.20 285.20,248.20 286.30,247.60 287.40,251.50 288.30,256.10 289.60,264.00 290.90,269.30 292.20,274.60 293.50,279.80 294.90,285.10 296.20,289.10 298.20,291.20 309.00,291.30" fill="none" stroke="#000" stroke-width="1.3" stroke-linejoin="round"/>
<path d="M256.10 291.70h2" stroke="#aaa" stroke-width="0.9"/>
<path d="M256.10 282.40h2" stroke="#aaa" stroke-width="0.9"/>
<path d="M256.10 273.10h2" stroke="#aaa" stroke-width="0.9"/>
<path d="M256.10 263.80h2" stroke="#aaa" stroke-width="0.9"/>
<path d="M256.10 254.50h2" stroke="#aaa" stroke-width="0.9"/>
<path d="M256.10 245.20h2" stroke="#aaa" stroke-width="0.9"/>
<path d="M253.10 264.45v6" stroke="#ccc" stroke-width="0.9"/>
<path d="M265.89 294.90h2.2" stroke="#aaa" stroke-width="0.9"/>
<path d="M269.28 294.90h2.2" stroke="#aaa" stroke-width="0.9"/>
<path d="M282.35 294.90h2.2" stroke="#aaa" stroke-width="0.9"/>
<path d="M293.96 294.90h2.2" stroke="#aaa" stroke-width="0.9"/>
<path d="M304.13 294.90h2.2" stroke="#aaa" stroke-width="0.9"/>
<path d="M281.85 297.70h4" stroke="#ccc" stroke-width="0.9"/>
<text x="289.20" y="239.80" font-size="12.5" text-anchor="middle" fill="#111" stroke="#111" stroke-width="0.15">P4</text>
<text x="302.60" y="252.80" font-size="9.2" text-anchor="middle" fill="#1a1a1a" stroke="#1a1a1a" stroke-width="0.15">70%</text>
<path d="M327.30 293.00L327.30 253.20L328.50 257.00L329.90 259.80L331.20 261.50L332.50 261.00L333.80 260.50L335.20 259.80L337.20 255.80L339.10 252.50L340.40 250.50L341.50 248.60L342.40 254.50L343.70 269.00L345.00 279.50L346.40 286.10L347.70 291.40L349.00 292.70L349.00 293.00Z" fill="#a4a4a4"/>
<rect x="327.00" y="243.70" width="48.60" height="49.30" fill="none" stroke="#999" stroke-width="0.9"/>
<path d="M327.00 243.70V293.00H375.60" fill="none" stroke="#222" stroke-width="1.0"/>
<path d="M345.00 277.50H375.60" stroke="#8a8a8a" stroke-width="0.9"/>
<path d="M360.30 276.30V278.70" stroke="#8a8a8a" stroke-width="0.7"/>
<path d="M357.80 275.30H362.80" stroke="#bbb" stroke-width="0.9"/>
<polyline points="327.30,288.00 330.00,287.00 332.50,288.00 335.20,287.40 339.10,283.50 341.80,276.90 343.70,269.00 345.00,262.40 345.70,257.10 347.00,255.80 348.10,251.90 349.00,247.90 350.00,249.90 350.70,258.40 351.60,263.70 352.60,271.60 353.60,279.50 355.60,286.10 358.20,290.70 361.50,292.50 375.60,292.60" fill="none" stroke="#000" stroke-width="1.3" stroke-linejoin="round"/>
<path d="M322.50 293.00h2" stroke="#aaa" stroke-width="0.9"/>
<path d="M322.50 283.54h2" stroke="#aaa" stroke-width="0.9"/>
<path d="M322.50 274.08h2" stroke="#aaa" stroke-width="0.9"/>
<path d="M322.50 264.62h2" stroke="#aaa" stroke-width="0.9"/>
<path d="M322.50 255.16h2" stroke="#aaa" stroke-width="0.9"/>
<path d="M322.50 245.70h2" stroke="#aaa" stroke-width="0.9"/>
<path d="M319.50 265.35v6" stroke="#ccc" stroke-width="0.9"/>
<path d="M332.32 296.20h2.2" stroke="#aaa" stroke-width="0.9"/>
<path d="M335.72 296.20h2.2" stroke="#aaa" stroke-width="0.9"/>
<path d="M348.84 296.20h2.2" stroke="#aaa" stroke-width="0.9"/>
<path d="M360.51 296.20h2.2" stroke="#aaa" stroke-width="0.9"/>
<path d="M370.71 296.20h2.2" stroke="#aaa" stroke-width="0.9"/>
<path d="M348.34 299.00h4" stroke="#ccc" stroke-width="0.9"/>
<text x="348.60" y="239.60" font-size="12.5" text-anchor="middle" fill="#111" stroke="#111" stroke-width="0.15">P5</text>
<text x="366.50" y="254.80" font-size="9.2" text-anchor="middle" fill="#1a1a1a" stroke="#1a1a1a" stroke-width="0.15">49%</text>
<path d="M389.50 292.70L389.50 247.90L390.90 249.20L392.90 251.20L394.90 249.90L396.90 250.50L398.20 249.20L399.50 257.10L401.50 258.40L403.40 255.80L404.80 262.40L406.10 272.90L408.10 282.20L410.00 286.80L411.30 290.00L413.30 292.50L413.30 292.70Z" fill="#a4a4a4"/>
<rect x="389.20" y="243.70" width="49.00" height="49.00" fill="none" stroke="#999" stroke-width="0.9"/>
<path d="M389.20 243.70V292.70H438.20" fill="none" stroke="#222" stroke-width="1.0"/>
<path d="M408.70 276.90H438.20" stroke="#8a8a8a" stroke-width="0.9"/>
<path d="M423.45 275.70V278.10" stroke="#8a8a8a" stroke-width="0.7"/>
<path d="M420.95 274.70H425.95" stroke="#bbb" stroke-width="0.9"/>
<polyline points="389.50,291.60 395.50,291.10 399.50,289.40 402.10,287.40 404.80,283.50 406.70,278.20 408.50,271.60 410.00,262.40 411.30,255.80 412.40,251.90 413.30,247.20 414.20,254.50 415.30,259.80 416.60,270.30 417.90,280.80 419.50,288.10 421.90,291.40 438.20,292.20" fill="none" stroke="#000" stroke-width="1.3" stroke-linejoin="round"/>
<path d="M384.70 292.70h2" stroke="#aaa" stroke-width="0.9"/>
<path d="M384.70 283.30h2" stroke="#aaa" stroke-width="0.9"/>
<path d="M384.70 273.90h2" stroke="#aaa" stroke-width="0.9"/>
<path d="M384.70 264.50h2" stroke="#aaa" stroke-width="0.9"/>
<path d="M384.70 255.10h2" stroke="#aaa" stroke-width="0.9"/>
<path d="M384.70 245.70h2" stroke="#aaa" stroke-width="0.9"/>
<path d="M381.70 265.20v6" stroke="#ccc" stroke-width="0.9"/>
<path d="M394.57 295.90h2.2" stroke="#aaa" stroke-width="0.9"/>
<path d="M398.00 295.90h2.2" stroke="#aaa" stroke-width="0.9"/>
<path d="M411.23 295.90h2.2" stroke="#aaa" stroke-width="0.9"/>
<path d="M422.99 295.90h2.2" stroke="#aaa" stroke-width="0.9"/>
<path d="M433.28 295.90h2.2" stroke="#aaa" stroke-width="0.9"/>
<path d="M410.73 298.70h4" stroke="#ccc" stroke-width="0.9"/>
<text x="414.00" y="239.80" font-size="12.5" text-anchor="middle" fill="#111" stroke="#111" stroke-width="0.15">P6</text>
<text x="433.40" y="253.00" font-size="9.2" text-anchor="middle" fill="#1a1a1a" stroke="#1a1a1a" stroke-width="0.15">72%</text>
<path d="M453.20 295.00L453.20 274.30L454.60 276.90L456.60 274.90L457.90 271.60L459.20 273.60L460.50 270.30L461.80 267.70L463.20 265.10L464.50 261.80L465.80 259.10L467.10 253.90L467.80 249.20L468.80 254.50L469.70 257.80L471.10 265.70L472.40 276.30L473.70 284.20L475.00 290.10L476.30 293.40L477.50 294.80L477.50 295.00Z" fill="#a4a4a4"/>
<rect x="453.00" y="245.70" width="48.80" height="49.30" fill="none" stroke="#999" stroke-width="0.9"/>
<path d="M453.00 245.70V295.00H501.80" fill="none" stroke="#222" stroke-width="1.0"/>
<path d="M473.00 278.90H501.80" stroke="#8a8a8a" stroke-width="0.9"/>
<path d="M487.40 277.70V280.10" stroke="#8a8a8a" stroke-width="0.7"/>
<path d="M484.90 276.70H489.90" stroke="#bbb" stroke-width="0.9"/>
<polyline points="453.20,287.50 455.90,288.80 458.50,288.40 461.20,288.80 463.80,286.80 466.40,282.80 469.10,278.20 471.10,274.30 472.40,271.60 473.70,270.30 475.00,266.40 476.30,259.10 477.20,253.90 478.30,249.20 479.40,253.20 480.30,256.50 481.60,265.70 482.90,274.90 484.90,284.20 486.90,290.70 489.50,294.00 501.80,294.30" fill="none" stroke="#000" stroke-width="1.3" stroke-linejoin="round"/>
<path d="M448.50 295.00h2" stroke="#aaa" stroke-width="0.9"/>
<path d="M448.50 285.54h2" stroke="#aaa" stroke-width="0.9"/>
<path d="M448.50 276.08h2" stroke="#aaa" stroke-width="0.9"/>
<path d="M448.50 266.62h2" stroke="#aaa" stroke-width="0.9"/>
<path d="M448.50 257.16h2" stroke="#aaa" stroke-width="0.9"/>
<path d="M448.50 247.70h2" stroke="#aaa" stroke-width="0.9"/>
<path d="M445.50 267.35v6" stroke="#ccc" stroke-width="0.9"/>
<path d="M458.34 298.20h2.2" stroke="#aaa" stroke-width="0.9"/>
<path d="M461.76 298.20h2.2" stroke="#aaa" stroke-width="0.9"/>
<path d="M474.94 298.20h2.2" stroke="#aaa" stroke-width="0.9"/>
<path d="M486.65 298.20h2.2" stroke="#aaa" stroke-width="0.9"/>
<path d="M496.90 298.20h2.2" stroke="#aaa" stroke-width="0.9"/>
<path d="M474.44 301.00h4" stroke="#ccc" stroke-width="0.9"/>
<text x="476.20" y="239.80" font-size="12.5" text-anchor="middle" fill="#111" stroke="#111" stroke-width="0.15">P7</text>
<text x="490.00" y="255.20" font-size="9.2" text-anchor="middle" fill="#1a1a1a" stroke="#1a1a1a" stroke-width="0.15">58</text>
<text x="489.00" y="266.40" font-size="9.2" text-anchor="middle" fill="#1a1a1a" stroke="#1a1a1a" stroke-width="0.15">%</text>
<path d="M24.1 283.6V257.2M21.2 262.0L24.1 257.0L27.0 262.0M24.1 283.6H46.4M41.8 280.6L46.8 283.6L41.8 286.6" fill="none" stroke="#000" stroke-width="1.7" stroke-linejoin="miter"/>
<text x="20.00" y="271.50" font-size="7.2" text-anchor="middle" fill="#111" stroke="#111" stroke-width="0.08" transform="rotate(-90 20.00 271.50)">Count</text>
<text x="31.90" y="294.00" font-size="7.2" text-anchor="middle" fill="#111" stroke="#111" stroke-width="0.08">CD22</text>
<rect x="82.80" y="336.71" width="10.4" height="39.59" fill="#000"/>
<path d="M88.00 336.71V334.55M85.40 334.55H90.60" stroke="#444" stroke-width="0.9"/>
<rect x="97.80" y="344.36" width="10.4" height="31.94" fill="#000"/>
<path d="M103.00 344.36V342.37M100.40 342.37H105.60" stroke="#444" stroke-width="0.9"/>
<path d="M66.00 326.10V376.30H111.00" fill="none" stroke="#111" stroke-width="1.0"/>
<path d="M64.00 376.30H66.00" stroke="#111" stroke-width="0.9"/>
<text x="63.80" y="378.80" font-size="7.0" text-anchor="end" fill="#111" stroke="#111" stroke-width="0.05">0</text>
<path d="M64.00 359.67H66.00" stroke="#111" stroke-width="0.9"/>
<text x="63.80" y="362.17" font-size="7.0" text-anchor="end" fill="#111" stroke="#111" stroke-width="0.05">10</text>
<path d="M64.00 343.03H66.00" stroke="#111" stroke-width="0.9"/>
<text x="63.80" y="345.53" font-size="7.0" text-anchor="end" fill="#111" stroke="#111" stroke-width="0.05">20</text>
<path d="M64.00 326.40H66.00" stroke="#111" stroke-width="0.9"/>
<text x="63.80" y="328.90" font-size="7.0" text-anchor="end" fill="#111" stroke="#111" stroke-width="0.05">30</text>
<path d="M73.80 376.30V378.50" stroke="#111" stroke-width="0.9"/>
<text x="75.90" y="378.90" font-size="7.9" text-anchor="end" fill="#111" stroke="#111" stroke-width="0.1" transform="rotate(-90 75.90 378.90)">mock</text>
<path d="M88.00 376.30V378.50" stroke="#111" stroke-width="0.9"/>
<text x="90.80" y="378.90" font-size="7.9" text-anchor="end" fill="#111" stroke="#111" stroke-width="0.1" transform="rotate(-90 90.80 378.90)">m971-28z</text>
<path d="M103.00 376.30V378.50" stroke="#111" stroke-width="0.9"/>
<text x="105.80" y="378.90" font-size="7.9" text-anchor="end" fill="#111" stroke="#111" stroke-width="0.1" transform="rotate(-90 105.80 378.90)">HA22SH-28z</text>
<text x="85.60" y="313.20" font-size="8.8" text-anchor="middle" fill="#111" stroke="#111" stroke-width="0.02">P1</text>
<text x="96.40" y="321.00" font-size="6.3" text-anchor="middle" fill="#111" stroke="#111" stroke-width="0.05">p=0.06</text>
<path d="M86.70 325.00H103.70M86.70 323.00V327.00M103.70 323.00V327.00" stroke="#111" stroke-width="1.1" fill="none"/>
<rect x="131.00" y="366.85" width="10.4" height="6.55" fill="#000"/>
<path d="M136.20 366.85V365.47M133.60 365.47H138.80" stroke="#444" stroke-width="0.9"/>
<rect x="146.30" y="347.89" width="10.4" height="25.51" fill="#000"/>
<path d="M151.50 347.89V346.00M148.90 346.00H154.10" stroke="#444" stroke-width="0.9"/>
<rect x="161.80" y="363.06" width="10.4" height="10.34" fill="#000"/>
<path d="M167.00 363.06V361.68M164.40 361.68H169.60" stroke="#444" stroke-width="0.9"/>
<path d="M128.60 321.40V373.40H175.00" fill="none" stroke="#111" stroke-width="1.0"/>
<path d="M126.60 373.40H128.60" stroke="#111" stroke-width="0.9"/>
<text x="126.40" y="375.90" font-size="7.0" text-anchor="end" fill="#111" stroke="#111" stroke-width="0.05">0</text>
<path d="M126.60 356.17H128.60" stroke="#111" stroke-width="0.9"/>
<text x="126.40" y="358.67" font-size="7.0" text-anchor="end" fill="#111" stroke="#111" stroke-width="0.05">10</text>
<path d="M126.60 338.93H128.60" stroke="#111" stroke-width="0.9"/>
<text x="126.40" y="341.43" font-size="7.0" text-anchor="end" fill="#111" stroke="#111" stroke-width="0.05">20</text>
<path d="M126.60 321.70H128.60" stroke="#111" stroke-width="0.9"/>
<text x="126.40" y="324.20" font-size="7.0" text-anchor="end" fill="#111" stroke="#111" stroke-width="0.05">30</text>
<path d="M136.20 373.40V375.60" stroke="#111" stroke-width="0.9"/>
<text x="138.30" y="376.00" font-size="7.9" text-anchor="end" fill="#111" stroke="#111" stroke-width="0.1" transform="rotate(-90 138.30 376.00)">mock</text>
<path d="M151.50 373.40V375.60" stroke="#111" stroke-width="0.9"/>
<text x="154.30" y="376.00" font-size="7.9" text-anchor="end" fill="#111" stroke="#111" stroke-width="0.1" transform="rotate(-90 154.30 376.00)">m971-28z</text>
<path d="M167.00 373.40V375.60" stroke="#111" stroke-width="0.9"/>
<text x="169.80" y="376.00" font-size="7.9" text-anchor="end" fill="#111" stroke="#111" stroke-width="0.1" transform="rotate(-90 169.80 376.00)">HA22SH-28z</text>
<text x="149.30" y="314.10" font-size="8.8" text-anchor="middle" fill="#111" stroke="#111" stroke-width="0.02">P2</text>
<text x="160.40" y="327.30" font-size="6.3" text-anchor="middle" fill="#111" stroke="#111" stroke-width="0.05">p=0.004</text>
<path d="M151.20 332.40H168.10M151.20 330.40V334.40M168.10 330.40V334.40" stroke="#111" stroke-width="1.1" fill="none"/>
<rect x="215.10" y="350.04" width="10.4" height="23.06" fill="#000"/>
<path d="M220.30 350.04V346.70M217.70 346.70H222.90" stroke="#444" stroke-width="0.9"/>
<rect x="230.80" y="365.18" width="10.4" height="7.92" fill="#000"/>
<path d="M236.00 365.18V363.24M233.40 363.24H238.60" stroke="#444" stroke-width="0.9"/>
<path d="M196.10 320.00V373.10H244.00" fill="none" stroke="#111" stroke-width="1.0"/>
<path d="M194.10 373.10H196.10" stroke="#111" stroke-width="0.9"/>
<text x="193.90" y="375.60" font-size="7.0" text-anchor="end" fill="#111" stroke="#111" stroke-width="0.05">0</text>
<path d="M194.10 355.50H196.10" stroke="#111" stroke-width="0.9"/>
<text x="193.90" y="358.00" font-size="7.0" text-anchor="end" fill="#111" stroke="#111" stroke-width="0.05">10</text>
<path d="M194.10 337.90H196.10" stroke="#111" stroke-width="0.9"/>
<text x="193.90" y="340.40" font-size="7.0" text-anchor="end" fill="#111" stroke="#111" stroke-width="0.05">20</text>
<path d="M194.10 320.30H196.10" stroke="#111" stroke-width="0.9"/>
<text x="193.90" y="322.80" font-size="7.0" text-anchor="end" fill="#111" stroke="#111" stroke-width="0.05">30</text>
<path d="M204.60 373.10V375.30" stroke="#111" stroke-width="0.9"/>
<text x="206.70" y="375.70" font-size="7.9" text-anchor="end" fill="#111" stroke="#111" stroke-width="0.1" transform="rotate(-90 206.70 375.70)">mock</text>
<path d="M220.30 373.10V375.30" stroke="#111" stroke-width="0.9"/>
<text x="223.10" y="375.70" font-size="7.9" text-anchor="end" fill="#111" stroke="#111" stroke-width="0.1" transform="rotate(-90 223.10 375.70)">m971-28z</text>
<path d="M236.00 373.10V375.30" stroke="#111" stroke-width="0.9"/>
<text x="238.80" y="375.70" font-size="7.9" text-anchor="end" fill="#111" stroke="#111" stroke-width="0.1" transform="rotate(-90 238.80 375.70)">HA22SH-28z</text>
<text x="217.30" y="314.70" font-size="8.8" text-anchor="middle" fill="#111" stroke="#111" stroke-width="0.02">P3</text>
<text x="229.40" y="328.20" font-size="6.3" text-anchor="middle" fill="#111" stroke="#111" stroke-width="0.05">p=0.01</text>
<path d="M219.80 333.50H239.00M219.80 331.50V335.50M239.00 331.50V335.50" stroke="#111" stroke-width="1.1" fill="none"/>
<rect x="281.20" y="337.33" width="10.4" height="37.67" fill="#000"/>
<path d="M286.40 337.33V334.45M283.80 334.45H289.00" stroke="#444" stroke-width="0.9"/>
<rect x="296.50" y="361.26" width="10.4" height="13.74" fill="#000"/>
<path d="M301.70 361.26V358.37M299.10 358.37H304.30" stroke="#444" stroke-width="0.9"/>
<path d="M263.50 323.80V375.00H310.00" fill="none" stroke="#111" stroke-width="1.0"/>
<path d="M261.50 375.00H263.50" stroke="#111" stroke-width="0.9"/>
<text x="261.30" y="377.50" font-size="7.0" text-anchor="end" fill="#111" stroke="#111" stroke-width="0.05">0</text>
<path d="M261.50 358.03H263.50" stroke="#111" stroke-width="0.9"/>
<text x="261.30" y="360.53" font-size="7.0" text-anchor="end" fill="#111" stroke="#111" stroke-width="0.05">10</text>
<path d="M261.50 341.07H263.50" stroke="#111" stroke-width="0.9"/>
<text x="261.30" y="343.57" font-size="7.0" text-anchor="end" fill="#111" stroke="#111" stroke-width="0.05">20</text>
<path d="M261.50 324.10H263.50" stroke="#111" stroke-width="0.9"/>
<text x="261.30" y="326.60" font-size="7.0" text-anchor="end" fill="#111" stroke="#111" stroke-width="0.05">30</text>
<path d="M271.00 375.00V377.20" stroke="#111" stroke-width="0.9"/>
<text x="273.10" y="377.60" font-size="7.9" text-anchor="end" fill="#111" stroke="#111" stroke-width="0.1" transform="rotate(-90 273.10 377.60)">mock</text>
<path d="M286.40 375.00V377.20" stroke="#111" stroke-width="0.9"/>
<text x="289.20" y="377.60" font-size="7.9" text-anchor="end" fill="#111" stroke="#111" stroke-width="0.1" transform="rotate(-90 289.20 377.60)">m971-28z</text>
<path d="M301.70 375.00V377.20" stroke="#111" stroke-width="0.9"/>
<text x="304.50" y="377.60" font-size="7.9" text-anchor="end" fill="#111" stroke="#111" stroke-width="0.1" transform="rotate(-90 304.50 377.60)">HA22SH-28z</text>
<text x="284.00" y="313.60" font-size="8.8" text-anchor="middle" fill="#111" stroke="#111" stroke-width="0.02">P4</text>
<text x="294.80" y="321.70" font-size="6.3" text-anchor="middle" fill="#111" stroke="#111" stroke-width="0.05">p=0.002</text>
<path d="M284.80 325.40H304.00M284.80 323.40V327.40M304.00 323.40V327.40" stroke="#111" stroke-width="1.1" fill="none"/>
<rect x="331.80" y="371.06" width="10.4" height="0.54" fill="#000"/>
<path d="M337.00 371.06V364.44M334.40 364.44H339.60" stroke="#444" stroke-width="0.9"/>
<rect x="347.80" y="352.45" width="10.4" height="19.15" fill="#000"/>
<path d="M353.00 352.45V347.44M350.40 347.44H355.60" stroke="#444" stroke-width="0.9"/>
<rect x="364.00" y="362.47" width="10.4" height="9.13" fill="#000"/>
<path d="M369.20 362.47V361.93M366.60 361.93H371.80" stroke="#444" stroke-width="0.9"/>
<path d="M329.10 317.60V371.60H377.00" fill="none" stroke="#111" stroke-width="1.0"/>
<path d="M327.10 371.60H329.10" stroke="#111" stroke-width="0.9"/>
<text x="326.90" y="374.10" font-size="7.0" text-anchor="end" fill="#111" stroke="#111" stroke-width="0.05">0</text>
<path d="M327.10 353.70H329.10" stroke="#111" stroke-width="0.9"/>
<text x="326.90" y="356.20" font-size="7.0" text-anchor="end" fill="#111" stroke="#111" stroke-width="0.05">10</text>
<path d="M327.10 335.80H329.10" stroke="#111" stroke-width="0.9"/>
<text x="326.90" y="338.30" font-size="7.0" text-anchor="end" fill="#111" stroke="#111" stroke-width="0.05">20</text>
<path d="M327.10 317.90H329.10" stroke="#111" stroke-width="0.9"/>
<text x="326.90" y="320.40" font-size="7.0" text-anchor="end" fill="#111" stroke="#111" stroke-width="0.05">30</text>
<path d="M337.00 371.60V373.80" stroke="#111" stroke-width="0.9"/>
<text x="339.10" y="374.20" font-size="7.9" text-anchor="end" fill="#111" stroke="#111" stroke-width="0.1" transform="rotate(-90 339.10 374.20)">mock</text>
<path d="M353.00 371.60V373.80" stroke="#111" stroke-width="0.9"/>
<text x="355.80" y="374.20" font-size="7.9" text-anchor="end" fill="#111" stroke="#111" stroke-width="0.1" transform="rotate(-90 355.80 374.20)">m971-28z</text>
<path d="M369.20 371.60V373.80" stroke="#111" stroke-width="0.9"/>
<text x="372.00" y="374.20" font-size="7.9" text-anchor="end" fill="#111" stroke="#111" stroke-width="0.1" transform="rotate(-90 372.00 374.20)">HA22SH-28z</text>
<text x="350.20" y="313.20" font-size="8.8" text-anchor="middle" fill="#111" stroke="#111" stroke-width="0.02">P5</text>
<text x="361.80" y="330.10" font-size="6.3" text-anchor="middle" fill="#111" stroke="#111" stroke-width="0.05">p=0.07</text>
<path d="M351.70 335.80H370.50M351.70 333.80V337.80M370.50 333.80V337.80" stroke="#111" stroke-width="1.1" fill="none"/>
<rect x="410.70" y="343.58" width="10.4" height="30.22" fill="#000"/>
<path d="M415.90 343.58V340.11M413.30 340.11H418.50" stroke="#444" stroke-width="0.9"/>
<rect x="426.30" y="347.06" width="10.4" height="26.74" fill="#000"/>
<path d="M431.50 347.06V344.97M428.90 344.97H434.10" stroke="#444" stroke-width="0.9"/>
<path d="M392.20 321.40V373.80H439.00" fill="none" stroke="#111" stroke-width="1.0"/>
<path d="M390.20 373.80H392.20" stroke="#111" stroke-width="0.9"/>
<text x="390.00" y="376.30" font-size="7.0" text-anchor="end" fill="#111" stroke="#111" stroke-width="0.05">0</text>
<path d="M390.20 356.43H392.20" stroke="#111" stroke-width="0.9"/>
<text x="390.00" y="358.93" font-size="7.0" text-anchor="end" fill="#111" stroke="#111" stroke-width="0.05">10</text>
<path d="M390.20 339.07H392.20" stroke="#111" stroke-width="0.9"/>
<text x="390.00" y="341.57" font-size="7.0" text-anchor="end" fill="#111" stroke="#111" stroke-width="0.05">20</text>
<path d="M390.20 321.70H392.20" stroke="#111" stroke-width="0.9"/>
<text x="390.00" y="324.20" font-size="7.0" text-anchor="end" fill="#111" stroke="#111" stroke-width="0.05">30</text>
<path d="M400.00 373.80V376.00" stroke="#111" stroke-width="0.9"/>
<text x="402.10" y="376.40" font-size="7.9" text-anchor="end" fill="#111" stroke="#111" stroke-width="0.1" transform="rotate(-90 402.10 376.40)">mock</text>
<path d="M415.90 373.80V376.00" stroke="#111" stroke-width="0.9"/>
<text x="418.70" y="376.40" font-size="7.9" text-anchor="end" fill="#111" stroke="#111" stroke-width="0.1" transform="rotate(-90 418.70 376.40)">m971-28z</text>
<path d="M431.50 373.80V376.00" stroke="#111" stroke-width="0.9"/>
<text x="434.30" y="376.40" font-size="7.9" text-anchor="end" fill="#111" stroke="#111" stroke-width="0.1" transform="rotate(-90 434.30 376.40)">HA22SH-28z</text>
<text x="413.20" y="313.60" font-size="8.8" text-anchor="middle" fill="#111" stroke="#111" stroke-width="0.02">P6</text>
<text x="422.90" y="324.50" font-size="6.3" text-anchor="middle" fill="#111" stroke="#111" stroke-width="0.05">p=0.4</text>
<path d="M413.70 329.20H431.80M413.70 327.20V331.20M431.80 327.20V331.20" stroke="#111" stroke-width="1.1" fill="none"/>
<rect x="465.40" y="360.28" width="10.4" height="13.32" fill="#000"/>
<path d="M470.60 360.28V355.44M468.00 355.44H473.20" stroke="#444" stroke-width="0.9"/>
<rect x="480.80" y="345.57" width="10.4" height="28.03" fill="#000"/>
<path d="M486.00 345.57V335.89M483.40 335.89H488.60" stroke="#444" stroke-width="0.9"/>
<rect x="496.20" y="355.78" width="10.4" height="17.82" fill="#000"/>
<path d="M501.40 355.78V352.84M498.80 352.84H504.00" stroke="#444" stroke-width="0.9"/>
<path d="M462.60 321.40V373.60H509.40" fill="none" stroke="#111" stroke-width="1.0"/>
<path d="M460.60 373.60H462.60" stroke="#111" stroke-width="0.9"/>
<text x="460.40" y="376.10" font-size="7.0" text-anchor="end" fill="#111" stroke="#111" stroke-width="0.05">0</text>
<path d="M460.60 356.30H462.60" stroke="#111" stroke-width="0.9"/>
<text x="460.40" y="358.80" font-size="7.0" text-anchor="end" fill="#111" stroke="#111" stroke-width="0.05">10</text>
<path d="M460.60 339.00H462.60" stroke="#111" stroke-width="0.9"/>
<text x="460.40" y="341.50" font-size="7.0" text-anchor="end" fill="#111" stroke="#111" stroke-width="0.05">20</text>
<path d="M460.60 321.70H462.60" stroke="#111" stroke-width="0.9"/>
<text x="460.40" y="324.20" font-size="7.0" text-anchor="end" fill="#111" stroke="#111" stroke-width="0.05">30</text>
<path d="M470.60 373.60V375.80" stroke="#111" stroke-width="0.9"/>
<text x="472.70" y="376.20" font-size="7.9" text-anchor="end" fill="#111" stroke="#111" stroke-width="0.1" transform="rotate(-90 472.70 376.20)">mock</text>
<path d="M486.00 373.60V375.80" stroke="#111" stroke-width="0.9"/>
<text x="488.80" y="376.20" font-size="7.9" text-anchor="end" fill="#111" stroke="#111" stroke-width="0.1" transform="rotate(-90 488.80 376.20)">m971-28z</text>
<path d="M501.40 373.60V375.80" stroke="#111" stroke-width="0.9"/>
<text x="504.20" y="376.20" font-size="7.9" text-anchor="end" fill="#111" stroke="#111" stroke-width="0.1" transform="rotate(-90 504.20 376.20)">HA22SH-28z</text>
<text x="484.00" y="313.60" font-size="8.8" text-anchor="middle" fill="#111" stroke="#111" stroke-width="0.02">P7</text>
<text x="492.70" y="322.20" font-size="6.3" text-anchor="middle" fill="#111" stroke="#111" stroke-width="0.05">p=0.3</text>
<path d="M484.80 327.30H501.80M484.80 325.30V329.30M501.80 325.30V329.30" stroke="#111" stroke-width="1.1" fill="none"/>
<text x="41.40" y="360.80" font-size="15.9" text-anchor="middle" fill="#111" stroke="#111" stroke-width="0.05" transform="rotate(-90 41.40 360.80)">%Lysis</text>
</svg>
</body></html>
